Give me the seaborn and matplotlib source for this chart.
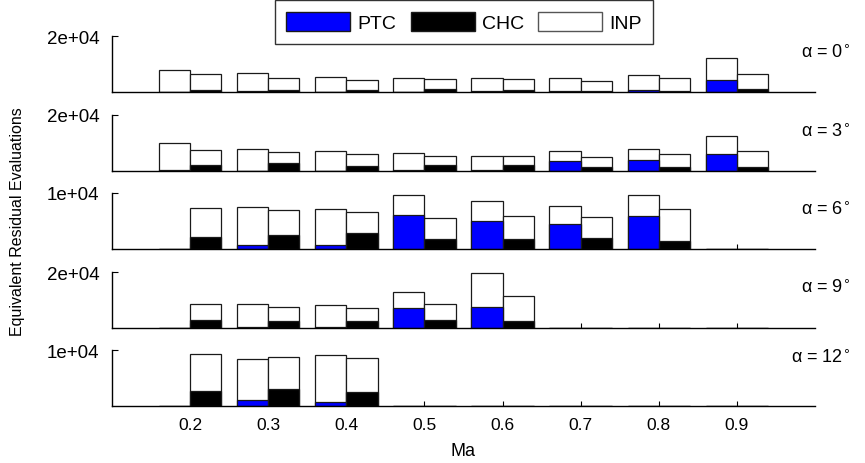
import numpy as np
import pandas as pd
import seaborn as sns
from matplotlib import pyplot as plt
from matplotlib.patches import Patch
from matplotlib.transforms import blended_transform_factory

ma = [0.2, 0.3, 0.4, 0.5, 0.6, 0.7, 0.8, 0.9]
alphas = [0, 3, 6, 9, 12]

# left bar of each pair: PTC part + INP on top
ptc_total = {
    0: [7960, 6680, 5470, 5100, 4900, 5100, 6200, 12000],
    3: [10100, 7960, 7000, 6300, 5470, 7000, 7960, 12600],
    6: [0, 7440, 7080, 9640, 8510, 7680, 9580, 0],
    9: [0, 8450, 8200, 12850, 19640, 0, 0, 0],
    12: [0, 8390, 9110, 0, 0, 0, 0, 0],
}
ptc_part = {
    0: [150, 200, 100, 100, 300, 200, 600, 4200],
    3: [200, 150, 150, 200, 200, 3570, 3930, 5950],
    6: [0, 710, 650, 6010, 4940, 4520, 5830, 0],
    9: [0, 500, 400, 7250, 7500, 0, 0, 0],
    12: [0, 1070, 770, 0, 0, 0, 0, 0],
}
# right bar of each pair: CHC part + INP on top
chc_total = {
    0: [6300, 5100, 4400, 4640, 4530, 3800, 5000, 6500],
    3: [7400, 6670, 5950, 5360, 5470, 4880, 5950, 7000],
    6: [7260, 6900, 6600, 5480, 5890, 5660, 7140, 0],
    9: [8450, 7600, 7140, 8450, 11300, 0, 0, 0],
    12: [9290, 8690, 8510, 0, 0, 0, 0, 0],
}
chc_part = {
    0: [700, 600, 600, 950, 820, 400, 300, 1100],
    3: [2000, 2740, 1800, 2000, 2000, 1430, 1430, 1430],
    6: [2080, 2440, 2860, 1790, 1790, 2020, 1490, 0],
    9: [2860, 2380, 2500, 2860, 2380, 0, 0, 0],
    12: [2620, 3100, 2440, 0, 0, 0, 0, 0],
}
ymax = {0: 2e4, 3: 2e4, 6: 1e4, 9: 2e4, 12: 1e4}
ytick_labels = {0: '2e+04', 3: '2e+04', 6: '1e+04', 9: '2e+04', 12: '1e+04'}

sns.set_style('white')
plt.rcParams['font.family'] = ['Liberation Sans', 'DejaVu Sans']
plt.rcParams['mathtext.fontset'] = 'dejavusans'
for k in ('text.color', 'xtick.color', 'ytick.color', 'axes.labelcolor'):
    plt.rcParams[k] = 'black'

W, H = 865, 464
fig = plt.figure(figsize=(W / 100, H / 100), dpi=100)

baselines = [93, 172, 250, 329, 407]
label_y = [0.71, 0.71, 0.71, 0.73, 0.87]
edge = '#1a1a1a'

for i, a in enumerate(alphas):
    ax = fig.add_axes([112 / W, 1 - baselines[i] / H, 703 / W, 56 / H])
    df = pd.DataFrame({
        'Ma': ma * 2,
        'side': ['PTC'] * len(ma) + ['CHC'] * len(ma),
        'total': ptc_total[a] + chc_total[a],
        'part': ptc_part[a] + chc_part[a],
    })
    common = dict(data=df, x='Ma', hue='side', hue_order=['PTC', 'CHC'],
                  native_scale=True, width=0.8, errorbar=None, saturation=1,
                  edgecolor=edge, linewidth=0.9, legend=False, ax=ax)
    sns.barplot(y='total', palette={'PTC': 'white', 'CHC': 'white'}, **common)
    sns.barplot(y='part', palette={'PTC': '#0000ff', 'CHC': 'black'}, **common)

    ax.set_xlim(0.1, 1.0)
    ax.set_ylim(0, ymax[a])
    ax.set_xticks(ma)
    ax.set_yticks([ymax[a]])
    ax.set_yticklabels([ytick_labels[a]])
    ax.tick_params(axis='x', direction='in', length=3.5, width=0.8,
                   labelsize=12.5, pad=8, bottom=True)
    ax.tick_params(axis='y', direction='in', length=4.5, width=0.8,
                   labelsize=13.5, pad=9, left=True)
    if i < len(alphas) - 1:
        ax.set_xticklabels([])
    else:
        ax.set_xticklabels([f'{m:.1f}' for m in ma])
    ax.set_xlabel('')
    ax.set_ylabel('')
    sns.despine(ax=ax)
    for s in ('left', 'bottom'):
        ax.spines[s].set_color('black')
        ax.spines[s].set_linewidth(1.0)
    ax.patch.set_alpha(0)

    tr = blended_transform_factory(fig.transFigure, ax.transAxes)
    ax.text(850 / W, label_y[i], 'α = ' + str(a) + r'$^{\circ}$',
            fontsize=13, ha='right', va='center', transform=tr)

handles = [Patch(facecolor='#0000ff', edgecolor=edge, label='PTC'),
           Patch(facecolor='black', edgecolor=edge, label='CHC'),
           Patch(facecolor='white', edgecolor='#555555', label='INP')]
leg = fig.legend(handles=handles, loc='center', ncol=3,
                 bbox_to_anchor=(464 / W, 1 - 23 / H), fontsize=14,
                 handlelength=3.3, handleheight=1.15, handletextpad=0.35,
                 columnspacing=0.75, frameon=True, fancybox=False,
                 borderpad=0.6, borderaxespad=0)
leg.get_frame().set_edgecolor('black')
leg.get_frame().set_linewidth(1.0)

fig.text(18 / W, 1 - 222 / H, 'Equivalent Residual Evaluations', rotation=90,
         ha='center', va='center', fontsize=11.5)
fig.text(463 / W, 1 - 452 / H, 'Ma', ha='center', va='center', fontsize=13)

fig.savefig('out.png', dpi=100)
